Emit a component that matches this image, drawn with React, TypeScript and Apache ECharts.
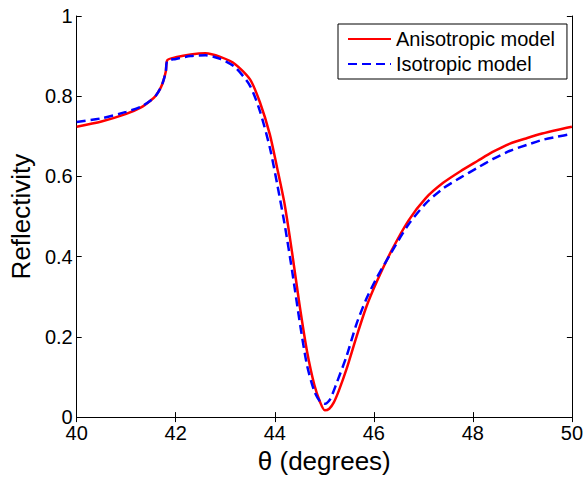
import React, { useEffect, useRef } from "react";
import * as echarts from "echarts";

const thetaAniso = [40, 40.5, 41, 41.3, 41.5, 41.6, 41.7, 41.75, 41.8, 41.83, 42, 42.3, 42.6, 42.9, 43.2, 43.5, 43.7, 43.9, 44.05, 44.2, 44.35, 44.5, 44.65, 44.8, 44.92, 45.01, 45.1, 45.19, 45.3, 45.45, 45.65, 45.85, 46.05, 46.35, 46.7, 47.05, 47.4, 47.75, 48.1, 48.4, 48.75, 49.1, 49.4, 49.7, 50];
const reflAniso = [0.724, 0.737, 0.756, 0.772, 0.79, 0.802, 0.822, 0.838, 0.862, 0.89, 0.897, 0.904, 0.907, 0.898, 0.88, 0.842, 0.785, 0.705, 0.62, 0.53, 0.41, 0.28, 0.165, 0.08, 0.036, 0.017, 0.021, 0.036, 0.068, 0.12, 0.2, 0.275, 0.335, 0.413, 0.49, 0.546, 0.584, 0.613, 0.639, 0.661, 0.682, 0.696, 0.707, 0.716, 0.724];

const thetaIso = [40, 40.5, 41, 41.3, 41.5, 41.6, 41.7, 41.75, 41.8, 41.83, 42, 42.3, 42.6, 42.9, 43.2, 43.5, 43.7, 43.9, 44.05, 44.2, 44.35, 44.5, 44.65, 44.8, 44.92, 45.02, 45.12, 45.25, 45.45, 45.65, 45.85, 46.05, 46.35, 46.7, 47.05, 47.4, 47.75, 48.1, 48.4, 48.75, 49.1, 49.4, 49.7, 50];
const reflIso = [0.736, 0.745, 0.761, 0.774, 0.79, 0.802, 0.822, 0.838, 0.862, 0.888, 0.893, 0.9, 0.902, 0.893, 0.872, 0.826, 0.763, 0.672, 0.58, 0.48, 0.365, 0.24, 0.13, 0.064, 0.038, 0.033, 0.045, 0.085, 0.152, 0.232, 0.295, 0.345, 0.41, 0.48, 0.533, 0.57, 0.597, 0.622, 0.643, 0.664, 0.679, 0.691, 0.699, 0.706];

const xTicks = { min: 40, max: 50, interval: 2 };
const yTicks = { min: 0, max: 1, interval: 0.2 };

const FONT = "Liberation Sans, Arial, Helvetica, sans-serif";
const W = 586;
const H = 479;

export default function App() {
  const ref = useRef<HTMLDivElement>(null);
  useEffect(() => {
    if (!ref.current) return;
    document.body.style.margin = "0";
    const chart = echarts.init(ref.current, undefined, { renderer: "svg", width: W, height: H });
    const axisLine = { show: true, lineStyle: { color: "#000", width: 1 } };
    const axisTick = { show: true, inside: true, length: 5, lineStyle: { color: "#000", width: 1 } };
    chart.setOption({
      animation: false,
      backgroundColor: "#fff",
      textStyle: { fontFamily: FONT },
      grid: { left: 75, right: 13, top: 16, bottom: 53, containLabel: false },
      legend: {
        orient: "vertical",
        left: 338,
        top: 24,
        padding: [5, 12, 5, 9],
        itemGap: 5,
        itemWidth: 43,
        itemHeight: 14,
        borderColor: "#000",
        borderWidth: 1,
        borderRadius: 0,
        backgroundColor: "#fff",
        itemStyle: { opacity: 0 },
        textStyle: { fontSize: 20, color: "#000", fontFamily: FONT },
        data: ["Anisotropic model", "Isotropic model"],
      },
      xAxis: [
        {
          type: "value",
          ...xTicks,
          position: "bottom",
          name: "θ (degrees)",
          nameLocation: "middle",
          nameGap: 30,
          nameTextStyle: { fontSize: 26, color: "#000", fontFamily: FONT },
          axisLine,
          axisTick,
          splitLine: { show: false },
          axisLabel: { fontSize: 20, color: "#000", margin: 9, lineHeight: 14, fontFamily: FONT },
        },
        {
          type: "value",
          ...xTicks,
          position: "top",
          axisLine,
          axisTick,
          splitLine: { show: false },
          axisLabel: { show: false },
        },
      ],
      yAxis: [
        {
          type: "value",
          ...yTicks,
          position: "left",
          name: "Reflectivity",
          nameLocation: "middle",
          nameRotate: 90,
          nameGap: 42,
          nameTextStyle: { fontSize: 26, color: "#000", fontFamily: FONT },
          axisLine,
          axisTick,
          splitLine: { show: false },
          axisLabel: { fontSize: 20, color: "#000", margin: 4, lineHeight: 14, fontFamily: FONT },
        },
        {
          type: "value",
          ...yTicks,
          position: "right",
          axisLine,
          axisTick,
          splitLine: { show: false },
          axisLabel: { show: false },
        },
      ],
      series: [
        {
          name: "Anisotropic model",
          type: "line",
          xAxisIndex: 0,
          yAxisIndex: 0,
          data: thetaAniso.map((t, i) => [t, reflAniso[i]]),
          showSymbol: false,
          symbol: "none",
          smooth: 0.25,
          lineStyle: { color: "#ff0000", width: 2.5, type: "solid" },
          itemStyle: { color: "#ff0000" },
          z: 2,
        },
        {
          name: "Isotropic model",
          type: "line",
          xAxisIndex: 0,
          yAxisIndex: 0,
          data: thetaIso.map((t, i) => [t, reflIso[i]]),
          showSymbol: false,
          symbol: "none",
          smooth: 0.25,
          lineStyle: { color: "#0000ff", width: 2.5, type: [9, 5] },
          itemStyle: { color: "#0000ff" },
          z: 3,
        },
      ],
    });
    return () => chart.dispose();
  }, []);
  return (
    <div
      ref={ref}
      style={{ position: "fixed", left: 0, top: 0, width: W, height: H, background: "#fff" }}
    />
  );
}
